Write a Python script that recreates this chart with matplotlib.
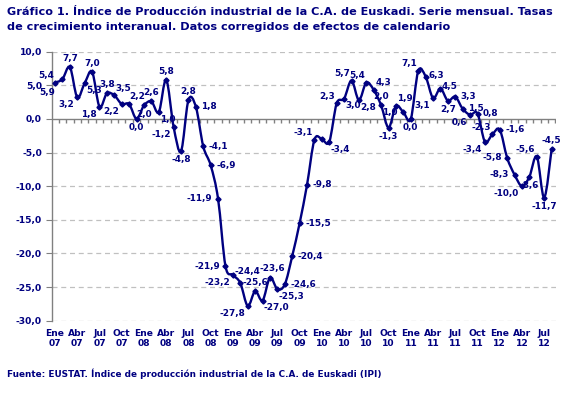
import numpy as np
import matplotlib
matplotlib.use("Agg")
import matplotlib.pyplot as plt
from matplotlib.path import Path
from matplotlib.patches import PathPatch

# monthly year-on-year rates, Ene 07 .. Ago 12
values = [5.4, 5.9, 7.7, 3.2, 5.3, 7.0, 1.8, 3.8, 3.5, 2.2, 2.2, 0.0,
          2.0, 2.6, 1.0, 5.8, -1.2, -4.8, 2.8, 1.8, -4.1, -6.9, -11.9, -21.9,
          -23.2, -24.4, -27.8, -25.6, -27.0, -23.6, -25.3, -24.6, -20.4, -15.5, -9.8, -3.1,
          -3.0, -3.4, 2.3, 3.0, 5.7, 2.8, 5.4, 4.3, 2.0, -1.3, 1.9, 1.0,
          0.0, 7.1, 6.3, 3.1, 4.5, 2.7, 3.3, 1.5, 0.6, 0.8, -3.4, -2.3,
          -1.6, -5.8, -8.3, -10.0, -8.6, -5.6, -11.7, -4.5]
shown = [True] * len(values)
shown[36] = False  # Ene 10 has no label in the original

months = ["Ene", "Abr", "Jul", "Oct"]
years = ["07", "08", "09", "10", "11", "12"]
tick_labels = [m + "\n" + y for y in years for m in months][:23]

# where each data label sits relative to its point
label_pos = ["al", "bl2", "a", "bl", "br", "a", "bl", "a", "ar", "bl", "ar0", "b",
             "b", "a", "br", "a", "bl", "b", "a", "r", "r", "r", "l", "l",
             "bl", "ar2", "bl", "a", "br", "a2", "br", "r", "r", "r", "r", "al",
             "a", "br", "al", "br", "al", "br", "al", "ar", "a", "b", "ar", "l",
             "b", "al", "r2", "bl", "r3", "b", "r", "r", "bl", "r", "bl", "al",
             "r", "l", "l", "bl", "b", "al", "b", "a"]
offsets = {"a": (0, 3, "center", "bottom"), "a2": (2, 3, "center", "bottom"),
           "b": (0, -3, "center", "top"),
           "l": (-4, 0, "right", "center"), "r": (4, 0, "left", "center"),
           "r2": (2, 1, "left", "center"), "r3": (1, 1.5, "left", "center"),
           "al": (-1, 2, "right", "bottom"), "ar": (1, 2, "left", "bottom"),
           "ar0": (0, 2, "left", "bottom"), "ar2": (-4, 5, "left", "bottom"),
           "bl": (-2, -2, "right", "top"), "bl2": (-5, -6, "right", "top"),
           "br": (1, -2, "left", "top")}

navy = "#000080"
x = np.arange(len(values))
y = np.array(values)

fig = plt.figure(figsize=(5.68, 3.94), dpi=100)
ax = fig.add_axes([0.091, 0.186, 0.888, 0.683])

# smoothed line like Excel: cubic bezier through every point
pts = np.column_stack([x, y])
verts = [pts[0]]
codes = [Path.MOVETO]
n = len(pts)
for i in range(n - 1):
    p0 = pts[max(i - 1, 0)]
    p1 = pts[i]
    p2 = pts[i + 1]
    p3 = pts[min(i + 2, n - 1)]
    verts += [p1 + (p2 - p0) / 6, p2 - (p3 - p1) / 6, p2]
    codes += [Path.CURVE4] * 3
ax.add_patch(PathPatch(Path(verts, codes), fill=False, edgecolor=navy,
                       lw=1.7, zorder=3))
ax.plot(x, y, linestyle="none", marker="D", ms=2.6, color=navy, zorder=4)

for i, v in enumerate(values):
    if not shown[i]:
        continue
    dx, dy, ha, va = offsets[label_pos[i]]
    ax.annotate(f"{v:.1f}".replace(".", ","), (x[i], y[i]), xytext=(dx, dy),
                textcoords="offset points", ha=ha, va=va, fontsize=6.4,
                fontweight="bold", color=navy, zorder=5)

ax.set_xlim(-0.45, 67.6)
ax.set_ylim(-30, 10)

for g in np.arange(-30, 11, 5):
    if g != 0:
        ax.axhline(g, color="#c0c0c0", lw=0.9, ls=(0, (4, 3)), zorder=1)
ax.axhline(0, color="#808080", lw=1.0, zorder=2)
ax.vlines(np.arange(-0.5, len(values)), -0.6, 0, color="#808080", lw=1.0, zorder=2)

for s in ["top", "right", "bottom"]:
    ax.spines[s].set_visible(False)
ax.spines["left"].set_color("#808080")
ax.spines["left"].set_linewidth(1.0)

ax.set_yticks(np.arange(-30, 11, 5))
ax.set_yticklabels([f"{t:.1f}".replace(".", ",") for t in np.arange(-30, 11, 5)])
ax.tick_params(axis="y", length=4, color="#808080", pad=3, labelsize=6.6,
               labelcolor=navy)
ax.set_xticks(np.arange(0, 67, 3))
ax.set_xticklabels(tick_labels, linespacing=1.15)
ax.tick_params(axis="x", length=0, pad=6, labelsize=6.6, labelcolor=navy)
for lab in ax.get_xticklabels() + ax.get_yticklabels():
    lab.set_fontweight("bold")

fig.text(7 / 568, 1 - 7 / 394,
         "Gráfico 1. Índice de Producción industrial de la C.A. de Euskadi. Serie mensual. Tasas\n"
         "de crecimiento interanual. Datos corregidos de efectos de calendario",
         ha="left", va="top", fontsize=8.1, fontweight="bold", color=navy,
         linespacing=1.65)
fig.text(7 / 568, 1 - 374 / 394,
         "Fuente: EUSTAT. Índice de producción industrial de la C.A. de Euskadi (IPI)",
         ha="left", va="center", fontsize=6.4, fontweight="bold", color=navy)

fig.savefig("out.png", dpi=100)
